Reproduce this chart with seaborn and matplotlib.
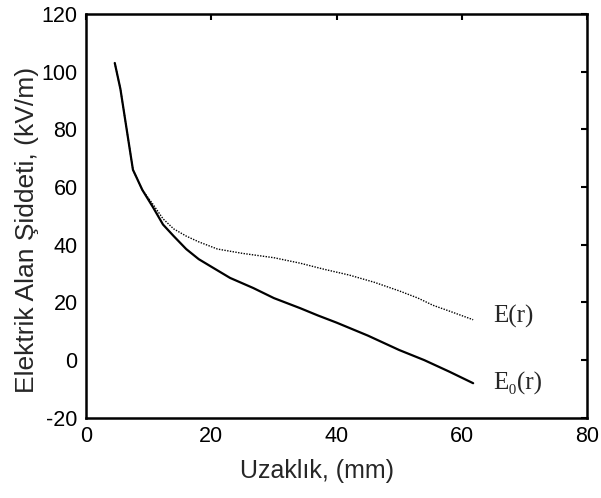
import pandas as pd
import seaborn as sns
import matplotlib.pyplot as plt

# solid curve E0(r)
r_e0 = [4.6, 5.5, 6.5, 7.5, 9.0, 10.7, 12.3, 14.0, 16.0, 18.0, 20.3, 23.0, 26.7, 30.0, 34.2, 37.0, 40.0, 45.0, 50.0, 54.0, 58.0, 61.8]
e0 = [103, 94, 80, 66, 59, 53, 47, 43, 38.5, 35, 32, 28.5, 25, 21.5, 18, 15.5, 13, 8.5, 3.5, 0, -4, -8]

# dotted curve E(r)
r_e = [4.6, 5.5, 6.5, 7.5, 9.0, 10.7, 12.3, 14.0, 16.0, 18.0, 21.0, 25.0, 30.0, 34.2, 38.0, 42.0, 46.0, 50.0, 53.0, 55.4, 58.0, 61.8]
e = [103, 94, 80, 66, 59, 54, 49, 45.5, 43, 41, 38.5, 37, 35.5, 33.6, 31.5, 29.5, 27, 24, 21.5, 19, 17, 14]

df0 = pd.DataFrame({"r": r_e0, "E": e0})
df1 = pd.DataFrame({"r": r_e, "E": e})

sns.set_style("white")
plt.rcParams['font.family'] = ['Liberation Sans', 'DejaVu Sans']
plt.rcParams['axes.unicode_minus'] = False

fig = plt.figure(figsize=(6.01, 4.98), dpi=100)
ax = fig.add_axes([0.143, 0.161, 0.834, 0.811])

sns.lineplot(data=df1, x="r", y="E", ax=ax, color="black", linewidth=1.0, linestyle=(0, (1, 1)), sort=False)
sns.lineplot(data=df0, x="r", y="E", ax=ax, color="black", linewidth=1.6, sort=False)

ax.set_xlim(0, 80)
ax.set_ylim(-20, 120)
ax.set_xticks([0, 20, 40, 60, 80])
ax.set_yticks([-20, 0, 20, 40, 60, 80, 100, 120])
ax.tick_params(direction="in", length=4, width=1.5, top=True, right=True, labelsize=15.5, colors="black", pad=6)
for s in ax.spines.values():
    s.set_linewidth(1.8)
    s.set_color("black")

ax.set_xlabel("Uzaklık, (mm)", fontsize=18)
ax.set_ylabel("Elektrik Alan Şiddeti, (kV/m)", fontsize=19)
ax.xaxis.set_label_coords(0.46, -0.103)
ax.yaxis.set_label_coords(-0.094, 0.465)

ax.text(65, 15, "E(r)", family=["Liberation Serif", "DejaVu Serif"], fontsize=18, va="center")
ax.text(65, -8, "E₀(r)", family=["Liberation Serif", "DejaVu Serif"], fontsize=18, va="center")

fig.savefig("out.png", dpi=100)
